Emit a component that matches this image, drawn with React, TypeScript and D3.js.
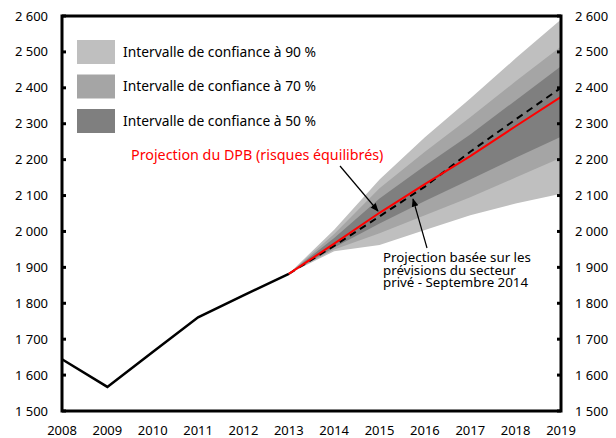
import * as d3 from 'd3';

const histYears = [2008, 2009, 2010, 2011, 2012, 2013];
const histValues = [1644, 1567, 1664, 1761, 1822, 1882];

const projYears = [2013, 2014, 2015, 2016, 2017, 2018, 2019];
const pbo = [1882, 1966, 2052, 2132, 2210, 2293, 2375];
const privateSector = [1882, 1960, 2042, 2125, 2222, 2312, 2400];

const up90 = [1882, 2005, 2145, 2262, 2370, 2482, 2590];
const up70 = [1882, 1993, 2120, 2222, 2318, 2418, 2515];
const up50 = [1882, 1982, 2092, 2183, 2270, 2365, 2460];
const lo50 = [1882, 1955, 2022, 2085, 2145, 2205, 2264];
const lo70 = [1882, 1950, 1995, 2045, 2095, 2150, 2205];
const lo90 = [1882, 1945, 1962, 2004, 2045, 2078, 2105];

const xTicks = d3.range(2008, 2020);
const yTicks = d3.range(1500, 2601, 100);

const legendItems = [
  { label: 'Intervalle de confiance à 90 %', color: '#bfbfbf' },
  { label: 'Intervalle de confiance à 70 %', color: '#a5a5a5' },
  { label: 'Intervalle de confiance à 50 %', color: '#7f7f7f' },
];

const W = 616;
const H = 438;
const left = 62, right = 561, top = 16, bottom = 411;
const font = "'Noto Sans', 'Open Sans', sans-serif";

const fmt = (v: number) => {
  const s = String(v);
  return s.length > 3 ? s.slice(0, s.length - 3) + ' ' + s.slice(-3) : s;
};

export default function App() {
  const x = d3.scaleLinear().domain([2008, 2019]).range([left, right]);
  const y = d3.scaleLinear().domain([1500, 2600]).range([bottom, top]);

  const band = (lo: number[], hi: number[]) =>
    d3.area<number>()
      .x((_, i) => x(projYears[i]))
      .y0((_, i) => y(lo[i]))
      .y1((_, i) => y(hi[i]))(projYears.map((_, i) => i)) || '';

  const line = (years: number[], vals: number[]) =>
    d3.line<number>()
      .x((_, i) => x(years[i]))
      .y(d => y(d))(vals) || '';

  return (
    <svg width={W} height={H} style={{ position: 'absolute', left: 0, top: 0, fontFamily: font }}>
      <defs>
        <marker id="arrow" viewBox="0 0 10 10" refX="9" refY="5" markerWidth="7" markerHeight="7" orient="auto-start-reverse">
          <path d="M0,1 L10,5 L0,9 z" fill="#000" />
        </marker>
      </defs>
      <rect width={W} height={H} fill="#fff" />

      {/* fan chart */}
      <path d={band(lo90, up90)} fill={legendItems[0].color} />
      <path d={band(lo70, up70)} fill={legendItems[1].color} />
      <path d={band(lo50, up50)} fill={legendItems[2].color} />

      {/* lines */}
      <path d={line(histYears, histValues)} fill="none" stroke="#000" strokeWidth={2.5} />
      <path d={line(projYears, privateSector)} fill="none" stroke="#000" strokeWidth={2} strokeDasharray="7,5" />
      <path d={line(projYears, pbo)} fill="none" stroke="#ff0000" strokeWidth={2} />

      {/* frame */}
      <rect x={left} y={top} width={right - left} height={bottom - top} fill="none" stroke="#000" strokeWidth={3} />
      {yTicks.map(t => (
        <g key={t}>
          <line x1={left} x2={left + 4} y1={y(t)} y2={y(t)} stroke="#000" strokeWidth={3} />
          <line x1={right - 4} x2={right} y1={y(t)} y2={y(t)} stroke="#000" strokeWidth={3} />
          <text x={48} y={y(t)} dy="0.35em" textAnchor="end" fontSize={13}>{fmt(t)}</text>
          <text x={575} y={y(t)} dy="0.35em" textAnchor="start" fontSize={13}>{fmt(t)}</text>
        </g>
      ))}
      {xTicks.map(t => (
        <text key={t} x={x(t)} y={435} textAnchor="middle" fontSize={13}>{t}</text>
      ))}

      {/* legend */}
      {legendItems.map((d, i) => (
        <g key={d.label} transform={`translate(77, ${40 + i * 34.5})`}>
          <rect width={38} height={24} fill={d.color} />
          <text x={46} y={12} dy="0.35em" fontSize={13.8}>{d.label}</text>
        </g>
      ))}

      {/* annotations */}
      <text x={131} y={155} dy="0.35em" fontSize={14.3} fill="#ff0000">Projection du DPB (risques équilibrés)</text>
      <line x1={340} y1={166} x2={378} y2={211} stroke="#000" strokeWidth={1.2} markerEnd="url(#arrow)" />

      <line x1={427} y1={248} x2={413} y2={199} stroke="#000" strokeWidth={1.2} markerEnd="url(#arrow)" />
      <text fontSize={13.3} x={383}>
        <tspan x={383} y={262}>Projection basée sur les</tspan>
        <tspan x={383} y={274.5}>prévisions du secteur</tspan>
        <tspan x={383} y={287}>privé - Septembre 2014</tspan>
      </text>
    </svg>
  );
}
